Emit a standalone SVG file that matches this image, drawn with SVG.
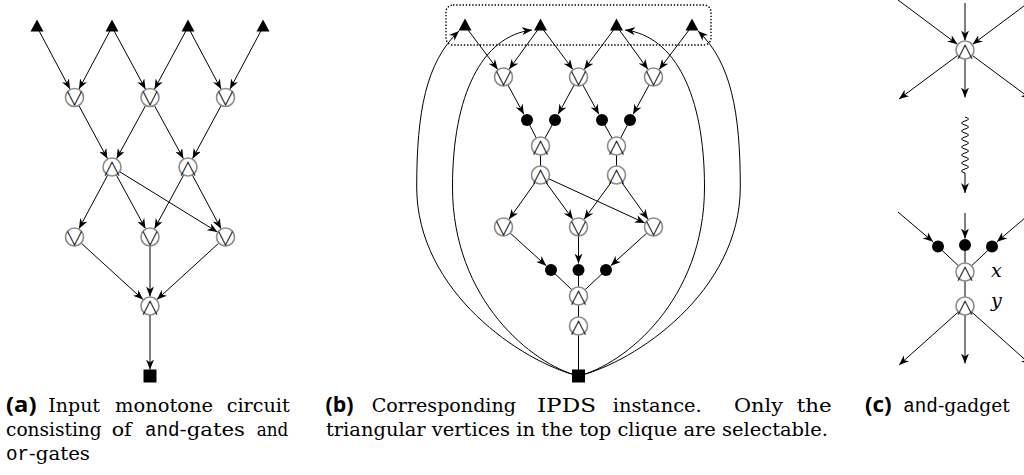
<svg xmlns="http://www.w3.org/2000/svg" width="1024" height="475" viewBox="0 0 1024 475">
<style>
.e{stroke:#000;stroke-width:1;fill:none}
.a{marker-end:url(#ah)}
.c{fill:#fff;stroke:#8c8c8c;stroke-width:1.6}
.s{font-family:"Noto Sans CJK JP","DejaVu Sans",sans-serif;font-weight:300;font-size:19px;text-anchor:middle;dominant-baseline:central;fill:#000}
.k{fill:#000}
.cap{font-family:"DejaVu Serif",serif;font-size:19px;fill:#000}
.lbl{font-family:"Open Sans",sans-serif;font-weight:700;font-size:21px;fill:#000}
.tt{font-family:"Liberation Mono",monospace;font-size:20px;fill:#000}
.v{font-family:"DejaVu Serif",serif;font-style:italic;font-size:19px;fill:#000}
</style>
<defs>
<marker id="ah" viewBox="0 0 10 8" refX="10" refY="4" markerWidth="10" markerHeight="8" markerUnits="userSpaceOnUse" orient="auto"><path d="M0,0 L10,4 L0,8 L3,4 Z" fill="#000"/></marker>
</defs>
<rect width="1024" height="475" fill="#fff"/>

<g id="connectors">
<line class="e a" x1="37" y1="27" x2="70.04" y2="89.11"/>
<line class="e a" x1="112" y1="27" x2="78.96" y2="89.11"/>
<line class="e a" x1="112" y1="27" x2="145.49" y2="89.14"/>
<line class="e a" x1="188" y1="27" x2="154.51" y2="89.14"/>
<line class="e a" x1="188" y1="27" x2="221.04" y2="89.11"/>
<line class="e a" x1="263" y1="27" x2="229.96" y2="89.11"/>
<line class="e a" x1="78.77" y1="105.42" x2="107.49" y2="158.64"/>
<line class="e a" x1="145.68" y1="105.4" x2="116.56" y2="158.66"/>
<line class="e a" x1="154.32" y1="105.4" x2="183.44" y2="158.66"/>
<line class="e a" x1="221.23" y1="105.42" x2="192.51" y2="158.64"/>
<line class="e a" x1="107.75" y1="174.93" x2="78.99" y2="228.63"/>
<line class="e a" x1="116.29" y1="174.91" x2="145.47" y2="228.65"/>
<line class="e a" x1="119.66" y1="171.72" x2="217.41" y2="232.01"/>
<line class="e a" x1="183.71" y1="174.91" x2="154.53" y2="228.65"/>
<line class="e a" x1="192.25" y1="174.93" x2="221.01" y2="228.63"/>
<line class="e a" x1="81.14" y1="243.07" x2="142.99" y2="299.59"/>
<line class="e a" x1="150" y1="246" x2="150" y2="296.5"/>
<line class="e a" x1="218.86" y1="243.07" x2="157.01" y2="299.59"/>
<line class="e a" x1="150" y1="315" x2="150" y2="369.5"/>
<line class="e a" x1="465" y1="26" x2="497.78" y2="69.42"/>
<line class="e a" x1="540.5" y1="26" x2="509.08" y2="69.31"/>
<line class="e a" x1="540.5" y1="26" x2="572.82" y2="69.38"/>
<line class="e a" x1="616.5" y1="26" x2="584.18" y2="69.38"/>
<line class="e a" x1="616.5" y1="26" x2="647.92" y2="69.31"/>
<line class="e a" x1="692" y1="26" x2="659.22" y2="69.42"/>
<line class="e a" x1="507.82" y1="84.9" x2="523.88" y2="114.3"/>
<line class="e a" x1="574.18" y1="84.9" x2="558.12" y2="114.3"/>
<line class="e a" x1="582.82" y1="84.9" x2="598.88" y2="114.3"/>
<line class="e a" x1="649.18" y1="84.9" x2="633.12" y2="114.3"/>
<line class="e" x1="527" y1="120" x2="540.5" y2="146"/>
<line class="e" x1="555" y1="120" x2="540.5" y2="146"/>
<line class="e" x1="602" y1="120" x2="616.5" y2="146"/>
<line class="e" x1="630" y1="120" x2="616.5" y2="146"/>
<line class="e" x1="540.5" y1="146" x2="540.5" y2="175"/>
<line class="e" x1="616.5" y1="146" x2="616.5" y2="175"/>
<line class="e a" x1="535.28" y1="182.33" x2="509.01" y2="219.26"/>
<line class="e a" x1="545.81" y1="182.27" x2="572.89" y2="219.33"/>
<line class="e a" x1="548.68" y1="178.76" x2="644.87" y2="223.03"/>
<line class="e a" x1="611.19" y1="182.27" x2="584.11" y2="219.33"/>
<line class="e a" x1="621.72" y1="182.33" x2="647.99" y2="219.26"/>
<line class="e a" x1="510.17" y1="233.04" x2="546.18" y2="265.64"/>
<line class="e a" x1="578.5" y1="236" x2="578.5" y2="263.5"/>
<line class="e a" x1="646.83" y1="233.04" x2="610.82" y2="265.64"/>
<line class="e" x1="551" y1="270" x2="578.5" y2="296"/>
<line class="e" x1="578.5" y1="270" x2="578.5" y2="296"/>
<line class="e" x1="606" y1="270" x2="578.5" y2="296"/>
<line class="e" x1="578.5" y1="296" x2="578.5" y2="376"/>
<path class="e a" d="M578.5,376 C522,362 416.7,292 416.7,187 C416.7,112 426,62 459,31"/>
<path class="e a" d="M578.5,376 C532,364 452.5,300 452.5,187 C452.5,95 482,36 532,30"/>
<path class="e a" d="M578.5,376 C635,362 740.3,292 740.3,187 C740.3,112 731,62 698,31"/>
<path class="e a" d="M578.5,376 C625,364 704.5,300 704.5,187 C704.5,95 675,36 625,30"/>
<line class="e a" x1="898" y1="0" x2="957.39" y2="44.32"/>
<line class="e a" x1="965" y1="3" x2="965" y2="40.5"/>
<line class="e a" x1="1032" y1="0" x2="972.61" y2="44.32"/>
<line class="e a" x1="957.77" y1="55.36" x2="899" y2="99"/>
<line class="e a" x1="965" y1="59" x2="965" y2="97.5"/>
<line class="e a" x1="972.23" y1="55.36" x2="1031" y2="99"/>
<path class="e a" d="M965,117 q7,2 0,4 t0,4 t0,4 t0,4 t0,4 t0,4 t0,4 t0,4 t0,4 t0,4 t0,4 t0,4 t0,4 t0,4 l0,20"/>
<line class="e a" x1="898" y1="212" x2="933.05" y2="241.79"/>
<line class="e a" x1="965" y1="213" x2="965" y2="238.5"/>
<line class="e a" x1="1032" y1="212" x2="996.95" y2="241.79"/>
<line class="e" x1="938" y1="246.5" x2="965" y2="272"/>
<line class="e" x1="965" y1="245" x2="965" y2="306"/>
<line class="e" x1="992" y1="246.5" x2="965" y2="272"/>
<line class="e a" x1="958.29" y1="312" x2="899" y2="365"/>
<line class="e a" x1="965" y1="315" x2="965" y2="363.5"/>
<line class="e a" x1="971.71" y1="312" x2="1031" y2="365"/>
</g>

<g id="a-in1"><polygon class="k" points="37,19.5 30.5,31.5 43.5,31.5"/></g>
<g id="a-in2"><polygon class="k" points="112,19.5 105.5,31.5 118.5,31.5"/></g>
<g id="a-in3"><polygon class="k" points="188,19.5 181.5,31.5 194.5,31.5"/></g>
<g id="a-in4"><polygon class="k" points="263,19.5 256.5,31.5 269.5,31.5"/></g>
<g id="a-or1"><circle class="c" cx="74.5" cy="97.5" r="9"/><text class="s" x="74.5" y="97.5">∨</text></g>
<g id="a-or2"><circle class="c" cx="150" cy="97.5" r="9"/><text class="s" x="150" y="97.5">∨</text></g>
<g id="a-or3"><circle class="c" cx="225.5" cy="97.5" r="9"/><text class="s" x="225.5" y="97.5">∨</text></g>
<g id="a-and1"><circle class="c" cx="112" cy="167" r="9"/><text class="s" x="112" y="167">∧</text></g>
<g id="a-and2"><circle class="c" cx="188" cy="167" r="9"/><text class="s" x="188" y="167">∧</text></g>
<g id="a-or4"><circle class="c" cx="74.5" cy="237" r="9"/><text class="s" x="74.5" y="237">∨</text></g>
<g id="a-or5"><circle class="c" cx="150" cy="237" r="9"/><text class="s" x="150" y="237">∨</text></g>
<g id="a-or6"><circle class="c" cx="225.5" cy="237" r="9"/><text class="s" x="225.5" y="237">∨</text></g>
<g id="a-and3"><circle class="c" cx="150" cy="306" r="9"/><text class="s" x="150" y="306">∧</text></g>
<g id="a-out"><rect class="k" x="143.5" y="369.5" width="13" height="13"/></g>

<g id="b-clique"><rect x="446" y="5" width="265" height="40" rx="7" fill="none" stroke="#000" stroke-width="1.4" stroke-dasharray="1.4 1.8"/></g>
<g id="b-in1"><polygon class="k" points="465,18.5 458.5,30.5 471.5,30.5"/></g>
<g id="b-in2"><polygon class="k" points="540.5,18.5 534,30.5 547,30.5"/></g>
<g id="b-in3"><polygon class="k" points="616.5,18.5 610,30.5 623,30.5"/></g>
<g id="b-in4"><polygon class="k" points="692,18.5 685.5,30.5 698.5,30.5"/></g>
<g id="b-or1"><circle class="c" cx="503.5" cy="77" r="9"/><text class="s" x="503.5" y="77">∨</text></g>
<g id="b-or2"><circle class="c" cx="578.5" cy="77" r="9"/><text class="s" x="578.5" y="77">∨</text></g>
<g id="b-or3"><circle class="c" cx="653.5" cy="77" r="9"/><text class="s" x="653.5" y="77">∨</text></g>
<g id="b-d1"><circle class="k" cx="527" cy="120" r="6"/></g>
<g id="b-d2"><circle class="k" cx="555" cy="120" r="6"/></g>
<g id="b-d3"><circle class="k" cx="602" cy="120" r="6"/></g>
<g id="b-d4"><circle class="k" cx="630" cy="120" r="6"/></g>
<g id="b-and1x"><circle class="c" cx="540.5" cy="146" r="9"/><text class="s" x="540.5" y="146">∧</text></g>
<g id="b-and2x"><circle class="c" cx="616.5" cy="146" r="9"/><text class="s" x="616.5" y="146">∧</text></g>
<g id="b-and1y"><circle class="c" cx="540.5" cy="175" r="9"/><text class="s" x="540.5" y="175">∧</text></g>
<g id="b-and2y"><circle class="c" cx="616.5" cy="175" r="9"/><text class="s" x="616.5" y="175">∧</text></g>
<g id="b-or4"><circle class="c" cx="503.5" cy="227" r="9"/><text class="s" x="503.5" y="227">∨</text></g>
<g id="b-or5"><circle class="c" cx="578.5" cy="227" r="9"/><text class="s" x="578.5" y="227">∨</text></g>
<g id="b-or6"><circle class="c" cx="653.5" cy="227" r="9"/><text class="s" x="653.5" y="227">∨</text></g>
<g id="b-d5"><circle class="k" cx="551" cy="270" r="6"/></g>
<g id="b-d6"><circle class="k" cx="578.5" cy="270" r="6"/></g>
<g id="b-d7"><circle class="k" cx="606" cy="270" r="6"/></g>
<g id="b-and3x"><circle class="c" cx="578.5" cy="296" r="9"/><text class="s" x="578.5" y="296">∧</text></g>
<g id="b-and3y"><circle class="c" cx="578.5" cy="326" r="9"/><text class="s" x="578.5" y="326">∧</text></g>
<g id="b-out"><rect class="k" x="572" y="369.5" width="13" height="13"/></g>

<g id="c-and"><circle class="c" cx="965" cy="50" r="9"/><text class="s" x="965" y="50">∧</text></g>
<g id="c-d1"><circle class="k" cx="938" cy="246.5" r="6"/></g>
<g id="c-d2"><circle class="k" cx="965" cy="245" r="6"/></g>
<g id="c-d3"><circle class="k" cx="992" cy="246.5" r="6"/></g>
<g id="c-x"><circle class="c" cx="965" cy="272" r="9"/><text class="s" x="965" y="272">∧</text><text class="v" x="991" y="277">x</text></g>
<g id="c-y"><circle class="c" cx="965" cy="306" r="9"/><text class="s" x="965" y="306">∧</text><text class="v" x="991" y="307">y</text></g>

<g id="captions">
<text class="lbl" x="6" y="412" textLength="30.5" lengthAdjust="spacingAndGlyphs">(a)</text>
<text class="cap" x="48.3" y="412" textLength="51.7" lengthAdjust="spacingAndGlyphs">Input</text>
<text class="cap" x="115" y="412" textLength="98" lengthAdjust="spacingAndGlyphs">monotone</text>
<text class="cap" x="226.7" y="412" textLength="63" lengthAdjust="spacingAndGlyphs">circuit</text>
<text class="cap" x="6" y="436" textLength="95.7" lengthAdjust="spacingAndGlyphs">consisting</text>
<text class="cap" x="111.7" y="436" textLength="20" lengthAdjust="spacingAndGlyphs">of</text>
<text class="tt" x="145" y="436" textLength="34.6" lengthAdjust="spacingAndGlyphs">and</text>
<text class="cap" x="179.6" y="436" textLength="65.4" lengthAdjust="spacingAndGlyphs">-gates</text>
<text class="cap" x="256.7" y="436" textLength="31.6" lengthAdjust="spacingAndGlyphs">and</text>
<text class="tt" x="6" y="460" textLength="23.1" lengthAdjust="spacingAndGlyphs">or</text>
<text class="cap" x="29.1" y="460" textLength="60.9" lengthAdjust="spacingAndGlyphs">-gates</text>
<text class="lbl" x="325.5" y="412" textLength="28" lengthAdjust="spacingAndGlyphs">(b)</text>
<text class="cap" x="371.7" y="412" textLength="144.3" lengthAdjust="spacingAndGlyphs">Corresponding</text>
<text class="cap" x="537" y="412" textLength="59" lengthAdjust="spacingAndGlyphs">IPDS</text>
<text class="cap" x="612.7" y="412" textLength="89" lengthAdjust="spacingAndGlyphs">instance.</text>
<text class="cap" x="734" y="412" textLength="49" lengthAdjust="spacingAndGlyphs">Only</text>
<text class="cap" x="796.7" y="412" textLength="35" lengthAdjust="spacingAndGlyphs">the</text>
<text class="cap" x="326" y="436" textLength="502" lengthAdjust="spacingAndGlyphs">triangular vertices in the top clique are selectable.</text>
<text class="lbl" x="865" y="412" textLength="26.7" lengthAdjust="spacingAndGlyphs">(c)</text>
<text class="tt" x="903.3" y="412" textLength="34.6" lengthAdjust="spacingAndGlyphs">and</text>
<text class="cap" x="937.9" y="412" textLength="72" lengthAdjust="spacingAndGlyphs">-gadget</text>
</g>
</svg>
